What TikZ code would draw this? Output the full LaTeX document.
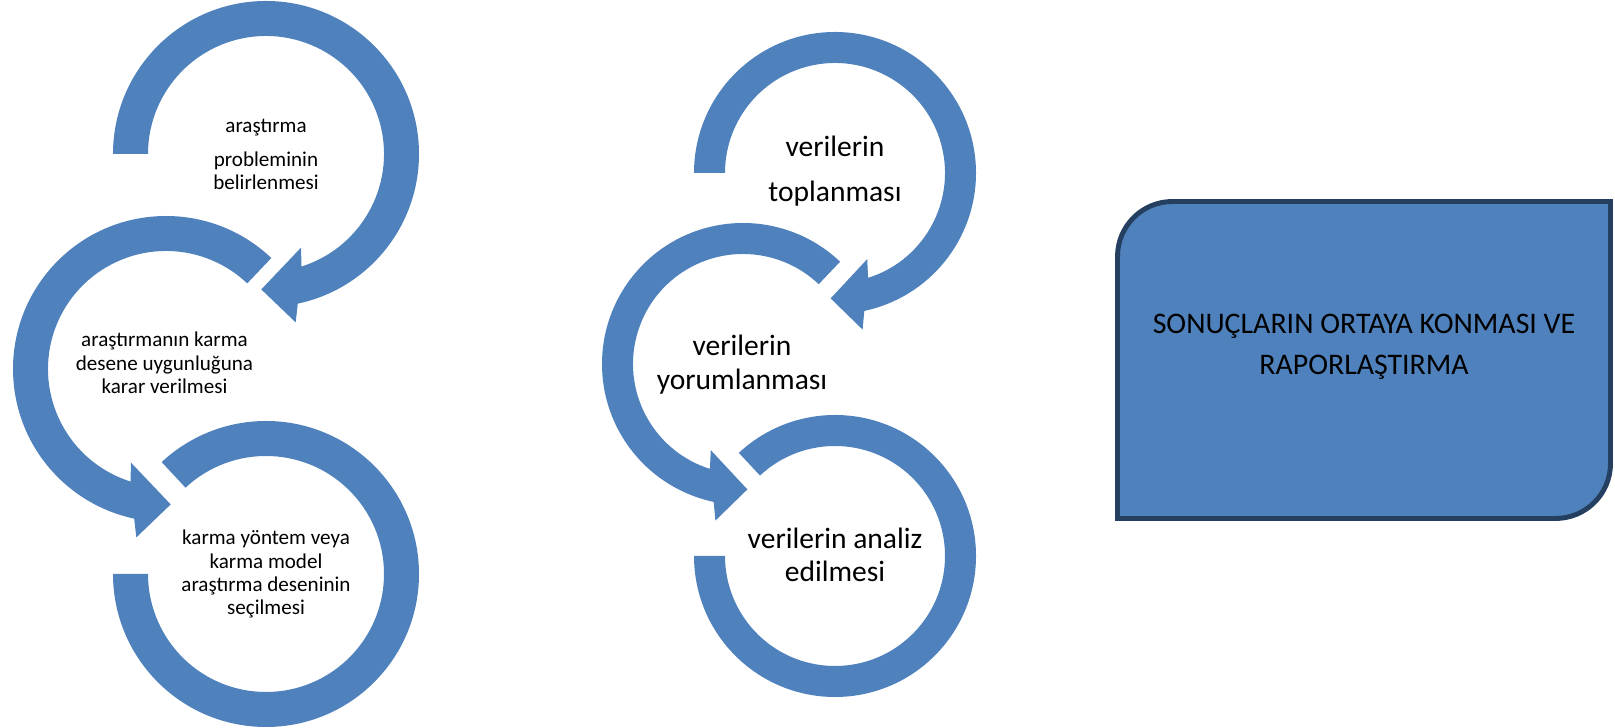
\documentclass[tikz,border=0pt]{standalone}
\usepackage{fontspec}
\setmainfont{Carlito}
\usetikzlibrary{calc}
\definecolor{smartblue}{HTML}{4F81BD}
\definecolor{smartedge}{HTML}{243F60}
\tikzset{
    band/.style={fill=smartblue},
    lefttext/.style={anchor=base, align=center, font={\fontsize{12}{13.3}\selectfont}},
    midtext/.style={anchor=base, align=center, font={\fontsize{16.8}{19.1}\selectfont}},
    resultbox/.style={fill=smartblue, draw=smartedge, line width=2.8pt},
    boxtext/.style={anchor=base, align=center, font={\fontsize{17}{23.3}\selectfont}},
}
\begin{document}
\begin{tikzpicture}
    \useasboundingbox (0,0) rectangle (32.3,14.56);

    % clockwise arrows at the top of each column
    \foreach \n/\cx/\cy/\ri/\ro in {a/5.32/11.48/2.36/3.06, d/16.70/11.10/2.20/2.82} {
        \pgfmathsetmacro\rmid{(\ri+\ro)/2}
        \pgfmathsetmacro\rhin{\ri-0.36}
        \pgfmathsetmacro\rhout{\ro+0.36}
        \coordinate (c\n) at (\cx,\cy);
        \fill[band] ($(c\n)+(180:\ro)$) arc[start angle=180, end angle=-78, radius=\ro]
            -- ($(c\n)+(-80:\rhout)$) -- ($(c\n)+(-92:\rmid)$)
            -- ($(c\n)+(-69.5:\rhin)$) -- ($(c\n)+(-72.5:\ri)$)
            arc[start angle=-72.5, end angle=180, radius=\ri] -- cycle;
    }

    % counter-clockwise arrows in the middle
    \foreach \n/\cx/\cy/\ri/\ro in {b/3.32/7.18/2.36/3.06, e/14.86/7.28/2.20/2.82} {
        \pgfmathsetmacro\rmid{(\ri+\ro)/2}
        \pgfmathsetmacro\rhin{\ri-0.36}
        \pgfmathsetmacro\rhout{\ro+0.36}
        \coordinate (c\n) at (\cx,\cy);
        \fill[band] ($(c\n)+(46.5:\ro)$) arc[start angle=46.5, end angle=258, radius=\ro]
            -- ($(c\n)+(260:\rhout)$) -- ($(c\n)+(272:\rmid)$)
            -- ($(c\n)+(249.5:\rhin)$) -- ($(c\n)+(252.5:\ri)$)
            arc[start angle=252.5, end angle=46.5, radius=\ri] -- cycle;
    }

    % open rings at the bottom
    \foreach \n/\cx/\cy/\ri/\ro in {c/5.32/3.08/2.36/3.06, f/16.70/3.44/2.20/2.82} {
        \coordinate (c\n) at (\cx,\cy);
        \fill[band] ($(c\n)+(180:\ro)$) arc[start angle=180, end angle=493, radius=\ro]
            -- ($(c\n)+(133:\ri)$) arc[start angle=493, end angle=180, radius=\ri] -- cycle;
    }

    % base anchor sits on the last line
    \node[lefttext] (problem) at (5.32,10.77) {araştırma\\[0.2cm]probleminin\\belirlenmesi};
    \node[lefttext] (uygunluk) at (3.29,6.69) {araştırmanın karma\\desene uygunluğuna\\karar verilmesi};
    \node[lefttext] (desen) at (5.32,2.26) {karma yöntem veya\\karma model\\araştırma deseninin\\seçilmesi};

    \node[midtext] (toplama) at (16.70,10.53) {verilerin\\[0.23cm]toplanması};
    \node[midtext] (yorum) at (14.84,6.77) {verilerin\\yorumlanması};
    \node[midtext] (analiz) at (16.70,2.92) {verilerin analiz\\edilmesi};

    % result box, rounded on two opposite corners
    \draw[resultbox] (22.35,4.19) -- (22.35,9.43) arc[start angle=180, end angle=90, radius=1.1]
        -- (32.21,10.53) -- (32.21,5.29) arc[start angle=0, end angle=-90, radius=1.1] -- cycle;
    \node[boxtext] (sonuc) at (27.28,7.07) {SONUÇLARIN ORTAYA KONMASI VE\\RAPORLAŞTIRMA};
\end{tikzpicture}
\end{document}
